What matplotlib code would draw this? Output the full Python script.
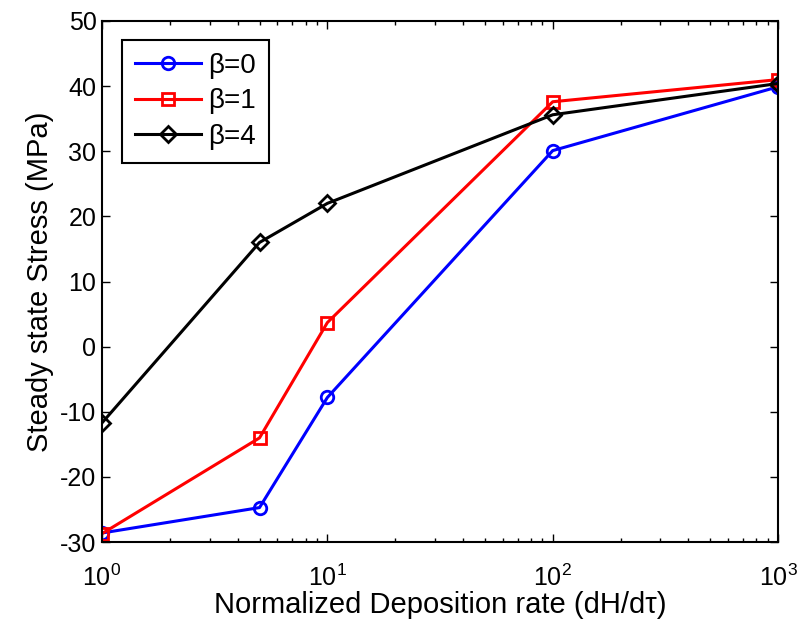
import numpy as np
import matplotlib.pyplot as plt

plt.rcParams['font.family'] = ['Liberation Sans', 'DejaVu Sans']
plt.rcParams['mathtext.fontset'] = 'custom'
plt.rcParams['mathtext.rm'] = 'Liberation Sans'
plt.rcParams['mathtext.it'] = 'Liberation Sans'
plt.rcParams['axes.unicode_minus'] = False

# deposition rates and steady state stress for each beta
rate = [1, 5, 10, 100, 1000]
stress_b0 = [-28.6, -24.7, -7.8, 30.1, 39.9]
stress_b1 = [-28.7, -14.0, 3.7, 37.6, 41.0]
stress_b4 = [-11.7, 16.0, 22.0, 35.6, 40.4]
labels = ['\u03b2=0', '\u03b2=1', '\u03b2=4']

fig = plt.figure(figsize=(8.03, 6.26), dpi=100)
ax = fig.add_axes([0.127, 0.134, 0.842, 0.8325])

ax.semilogx(rate, stress_b0, 'b-o', lw=2.2, ms=9, mfc='none', mew=2, label=labels[0])
ax.semilogx(rate, stress_b1, 'r-s', lw=2.2, ms=9, mfc='none', mew=2, label=labels[1])
ax.semilogx(rate, stress_b4, 'k-D', lw=2.2, ms=8, mfc='none', mew=2, label=labels[2])

ax.set_xlim(1, 1000)
ax.set_ylim(-30, 50)
ax.set_yticks(np.arange(-30, 51, 10))
ax.tick_params(which='both', direction='in', top=True, right=True, labelsize=18)
ax.tick_params(which='major', length=6, width=1)
ax.tick_params(which='minor', length=3, width=1)
ax.tick_params(axis='x', pad=16)
ax.tick_params(axis='y', pad=4)
for s in ax.spines.values():
    s.set_linewidth(1.5)

ax.set_xlabel('Normalized Deposition rate (dH/d\u03c4)', fontsize=21, labelpad=0)
ax.set_ylabel('Steady state Stress (MPa)', fontsize=21, labelpad=4)

leg = ax.legend(loc='upper left', bbox_to_anchor=(0.03, 0.963), fontsize=20,
                fancybox=False, framealpha=1, edgecolor='k',
                handlelength=2.4, handletextpad=0.25, borderpad=0.45,
                labelspacing=0.35, borderaxespad=0)
leg.get_frame().set_linewidth(1.5)

plt.savefig('out.png', dpi=100)
